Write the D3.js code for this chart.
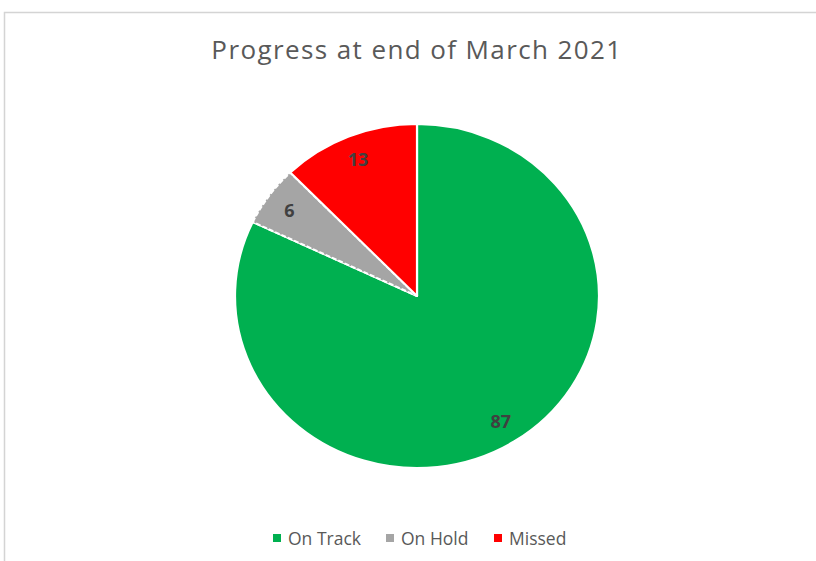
<!DOCTYPE html>
<html>
<head>
<meta charset="utf-8">
<script src="https://cdn.jsdelivr.net/npm/d3@7"></script>
<style>
  html, body { margin: 0; padding: 0; background: #ffffff; }
  svg { display: block; }
</style>
</head>
<body>
<svg id="chart" width="816" height="561"></svg>
<script>
// Status categories and counts
const categories = ["On Track", "On Hold", "Missed"];
const counts = [87, 6, 13];
const colors = ["#00b050", "#a5a5a5", "#ff0000"];
const chartTitle = "Progress at end of March 2021";

const svg = d3.select("#chart");
const W = 816, H = 561;

// Chart frame
svg.append("rect")
  .attr("x", 4.5).attr("y", 12.5)
  .attr("width", W + 10).attr("height", H + 10)
  .attr("fill", "#ffffff")
  .attr("stroke", "#d4d4d4")
  .attr("stroke-width", 1.5);

// Title
svg.append("text")
  .attr("x", 417).attr("y", 59)
  .attr("text-anchor", "middle")
  .attr("font-family", "'Open Sans', sans-serif")
  .attr("font-size", 26)
  .attr("letter-spacing", 1.4)
  .attr("fill", "#595959")
  .text(chartTitle);

const data = categories.map((c, i) => ({ name: c, value: counts[i], color: colors[i] }));

const cx = 417, cy = 296, rx = 182, ry = 172;
const pie = d3.pie().value(d => d.value).sort(null);
const arcs = pie(data);
const arc = d3.arc().innerRadius(0).outerRadius(rx);
const labelArc = d3.arc().innerRadius(157).outerRadius(157);

const g = svg.append("g")
  .attr("transform", `translate(${cx},${cy}) scale(1,${ry / rx})`);

g.selectAll("path.slice")
  .data(arcs)
  .join("path")
  .attr("class", "slice")
  .attr("d", arc)
  .attr("fill", d => d.data.color)
  .attr("stroke", "#ffffff")
  .attr("stroke-width", 2.2)
  .attr("stroke-dasharray", d => d.data.name === "On Hold" ? "5,2" : null)
  .attr("stroke-linejoin", "round");

// Value labels
svg.append("g")
  .selectAll("text")
  .data(arcs)
  .join("text")
  .attr("transform", d => {
    const [x, y] = labelArc.centroid(d);
    return `translate(${cx + x},${cy + y * ry / rx})`;
  })
  .attr("text-anchor", "middle")
  .attr("dominant-baseline", "central")
  .attr("font-family", "'Open Sans', sans-serif")
  .attr("font-weight", "bold")
  .attr("font-size", 18)
  .attr("fill", "#404040")
  .text(d => d.data.value);

// Legend
const legendX = [273, 386, 494];
const legend = svg.append("g");
data.forEach((d, i) => {
  legend.append("rect")
    .attr("x", legendX[i]).attr("y", 534)
    .attr("width", 8).attr("height", 8)
    .attr("fill", d.color);
  legend.append("text")
    .attr("x", legendX[i] + 15).attr("y", 538)
    .attr("dominant-baseline", "central")
    .attr("font-family", "'Open Sans', sans-serif")
    .attr("font-size", 17.5)
    .attr("fill", "#595959")
    .text(d.name);
});
</script>
</body>
</html>
